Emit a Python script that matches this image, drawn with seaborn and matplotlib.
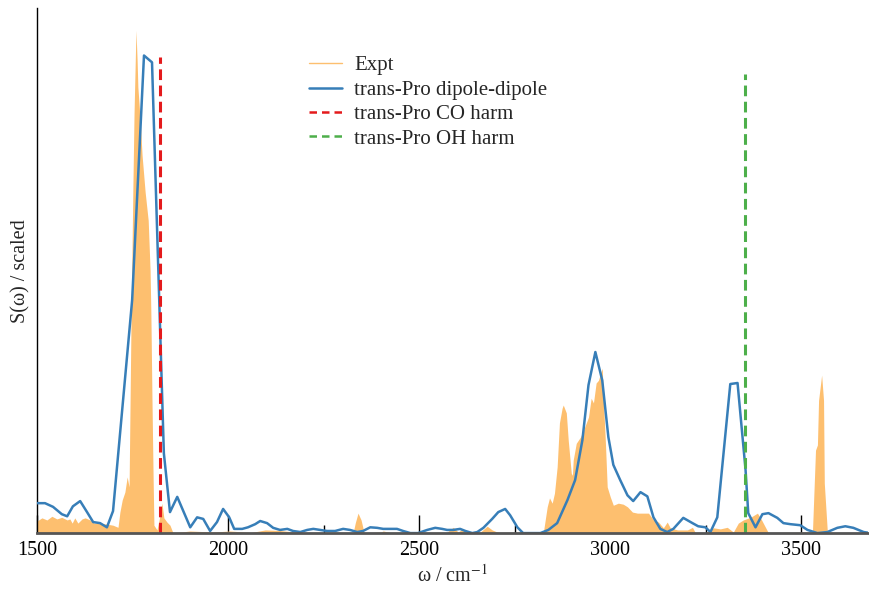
import numpy as np
import pandas as pd
import matplotlib
matplotlib.use("Agg")
import matplotlib.pyplot as plt
import seaborn as sns
from matplotlib.lines import Line2D

# ---- data ----
calc_w = [1500, 1521, 1542, 1565, 1579, 1594, 1613, 1631, 1647, 1665, 1683, 1699,
          1749, 1780, 1801, 1832, 1848, 1867, 1901, 1919, 1935, 1953, 1971, 1987,
          2003, 2016, 2037, 2052, 2071, 2084, 2102, 2118, 2136, 2155, 2170, 2189,
          2207, 2223, 2241, 2259, 2280, 2301, 2319, 2338, 2353, 2372, 2390, 2406,
          2424, 2442, 2458, 2477, 2497, 2521, 2542, 2560, 2573, 2589, 2607, 2621,
          2639, 2652, 2668, 2691, 2707, 2725, 2738, 2757, 2772, 2791, 2817, 2838,
          2861, 2888, 2908, 2927, 2943, 2961, 2979, 2995, 3008, 3026, 3045, 3060,
          3079, 3097, 3113, 3131, 3149, 3165, 3191, 3215, 3230, 3249, 3262, 3280,
          3314, 3333, 3354, 3361, 3380, 3398, 3414, 3437, 3453, 3471, 3497, 3516,
          3542, 3568, 3594, 3615, 3636, 3663, 3681]
calc_s = [0.057, 0.057, 0.050, 0.036, 0.032, 0.051, 0.061, 0.040, 0.021, 0.019, 0.011, 0.042,
          0.444, 0.910, 0.897, 0.152, 0.040, 0.069, 0.011, 0.030, 0.027, 0.004, 0.021, 0.046,
          0.030, 0.008, 0.008, 0.011, 0.017, 0.023, 0.019, 0.010, 0.006, 0.008, 0.004, 0.002,
          0.006, 0.008, 0.006, 0.004, 0.004, 0.008, 0.006, 0.002, 0.004, 0.011, 0.010, 0.008,
          0.008, 0.008, 0.004, 0.000, 0.000, 0.006, 0.010, 0.008, 0.006, 0.006, 0.008, 0.004,
          0.000, 0.002, 0.010, 0.027, 0.040, 0.046, 0.034, 0.011, 0.000, 0.000, 0.000, 0.006,
          0.019, 0.063, 0.101, 0.177, 0.282, 0.345, 0.291, 0.183, 0.130, 0.101, 0.072, 0.061,
          0.078, 0.070, 0.030, 0.008, 0.002, 0.008, 0.029, 0.019, 0.013, 0.011, 0.002, 0.030,
          0.284, 0.286, 0.120, 0.038, 0.011, 0.036, 0.038, 0.029, 0.019, 0.017, 0.015, 0.006,
          0.000, 0.002, 0.010, 0.013, 0.010, 0.002, 0.000]

expt_w = [1500, 1513, 1526, 1539, 1552, 1565, 1579, 1586, 1592, 1599, 1607, 1618,
          1626, 1639, 1649, 1665, 1683, 1699, 1712, 1717, 1723, 1730, 1736, 1741,
          1746, 1751, 1754, 1759, 1762, 1764, 1770, 1775, 1783, 1791, 1796, 1798,
          1801, 1804, 1806, 1814, 1822, 1827, 1832, 1840, 1848, 1856, 1900, 1960,
          2005, 2060, 2097, 2135, 2200, 2327, 2333, 2340, 2348, 2356, 2400, 2406,
          2430, 2570, 2589, 2602, 2613, 2623, 2660, 2678, 2691, 2704, 2720, 2819,
          2825, 2835, 2841, 2848, 2854, 2861, 2867, 2874, 2877, 2885, 2890, 2898,
          2901, 2903, 2911, 2922, 2930, 2943, 2950, 2956, 2963, 2969, 2977, 2979,
          2982, 2987, 2992, 3000, 3008, 3021, 3034, 3045, 3058, 3071, 3087, 3100,
          3113, 3126, 3139, 3149, 3157, 3176, 3202, 3215, 3223, 3249, 3270, 3288,
          3306, 3322, 3335, 3348, 3367, 3385, 3393, 3406, 3414, 3529, 3537, 3542,
          3545, 3553, 3558, 3560, 3568, 3576, 3680]
expt_s = [0.023, 0.029, 0.025, 0.032, 0.027, 0.030, 0.025, 0.027, 0.019, 0.029, 0.019, 0.027,
          0.029, 0.025, 0.019, 0.019, 0.017, 0.015, 0.011, 0.040, 0.063, 0.078, 0.107, 0.088,
          0.400, 0.660, 0.800, 0.958, 0.901, 0.850, 0.787, 0.720, 0.650, 0.596, 0.500, 0.420,
          0.250, 0.100, 0.015, 0.006, 0.034, 0.057, 0.029, 0.021, 0.015, 0.000, 0.004, 0.002,
          0.004, 0.001, 0.006, 0.005, 0.000, 0.000, 0.020, 0.038, 0.025, 0.000, 0.002, 0.004,
          0.000, 0.000, 0.011, 0.002, 0.008, 0.000, 0.002, 0.013, 0.006, 0.002, 0.000, 0.000,
          0.002, 0.050, 0.067, 0.057, 0.076, 0.126, 0.210, 0.238, 0.244, 0.229, 0.177, 0.114,
          0.110, 0.139, 0.171, 0.183, 0.196, 0.221, 0.257, 0.248, 0.286, 0.291, 0.310, 0.314,
          0.253, 0.177, 0.088, 0.069, 0.053, 0.057, 0.055, 0.050, 0.040, 0.038, 0.038, 0.038,
          0.025, 0.021, 0.010, 0.021, 0.010, 0.006, 0.006, 0.011, 0.000, 0.000, 0.010, 0.008,
          0.011, 0.002, 0.019, 0.025, 0.030, 0.038, 0.029, 0.011, 0.000, 0.002, 0.158, 0.168,
          0.253, 0.301, 0.253, 0.095, 0.002, 0.000, 0.000]

co_harm = 1822
co_height = 0.907
oh_harm = 3352
oh_height = 0.874

labels = ["Expt", "trans-Pro dipole-dipole", "trans-Pro CO harm", "trans-Pro OH harm"]
colors = ["#fdbf6f", "#377eb8", "#e41a1c", "#4daf4a"]
xticks = [1500, 2000, 2500, 3000, 3500]
minor_xticks = [1750, 2250, 2750, 3250]

# ---- style ----
sns.set_style("white")
plt.rcParams["font.family"] = ["Liberation Serif", "DejaVu Serif"]
plt.rcParams["mathtext.fontset"] = "stix"

fig = plt.figure(figsize=(8.7, 5.91), dpi=100)
ax = fig.add_axes([0.0425, 0.098, 0.9555, 0.888])

expt = pd.DataFrame({"w": expt_w, "s": expt_s})
calc = pd.DataFrame({"w": calc_w, "s": calc_s})

ax.fill_between(expt["w"], 0, expt["s"], color=colors[0], lw=0, zorder=1)
sns.lineplot(data=calc, x="w", y="s", ax=ax, color=colors[1], lw=1.8,
             estimator=None, sort=False, legend=False, zorder=3)
ax.vlines(co_harm, 0, co_height, colors=colors[2], lw=2.2,
          linestyles=(0, (3.5, 1.8)), zorder=4)
ax.vlines(oh_harm, 0, oh_height, colors=colors[3], lw=2.2,
          linestyles=(0, (3.5, 1.8)), zorder=4)

handles = [Line2D([], [], color=colors[0], lw=1.0),
           Line2D([], [], color=colors[1], lw=1.8),
           Line2D([], [], color=colors[2], lw=1.8, ls=(0, (3, 2))),
           Line2D([], [], color=colors[3], lw=1.8, ls=(0, (3, 2)))]
ax.legend(handles, labels, loc="upper left", bbox_to_anchor=(0.305, 0.945),
          frameon=False, fontsize=15, handlelength=1.55, labelspacing=0.23,
          handletextpad=0.6)

ax.set_xlim(1500, 3675)
ax.set_ylim(0, 1.0)
ax.set_xticks(xticks)
ax.set_xticks(minor_xticks, minor=True)
ax.set_yticks([])
ax.tick_params(axis="x", which="major", direction="in", length=13, width=1,
               colors="black", labelsize=14.5, pad=6, bottom=True)
ax.tick_params(axis="x", which="minor", direction="in", length=6, width=1,
               colors="black", bottom=True)
for s in ["top", "right"]:
    ax.spines[s].set_visible(False)
ax.spines["left"].set_color("black")
ax.spines["left"].set_linewidth(1.0)
ax.spines["bottom"].set_color("#555555")
ax.spines["bottom"].set_linewidth(2.0)
ax.spines["bottom"].set_zorder(5)

ax.set_xlabel(r"ω / cm$^{-1}$", fontsize=14.5, labelpad=3)
ax.set_ylabel("S(ω) / scaled", fontsize=14.5, labelpad=5)

fig.savefig("out.png", dpi=100)
